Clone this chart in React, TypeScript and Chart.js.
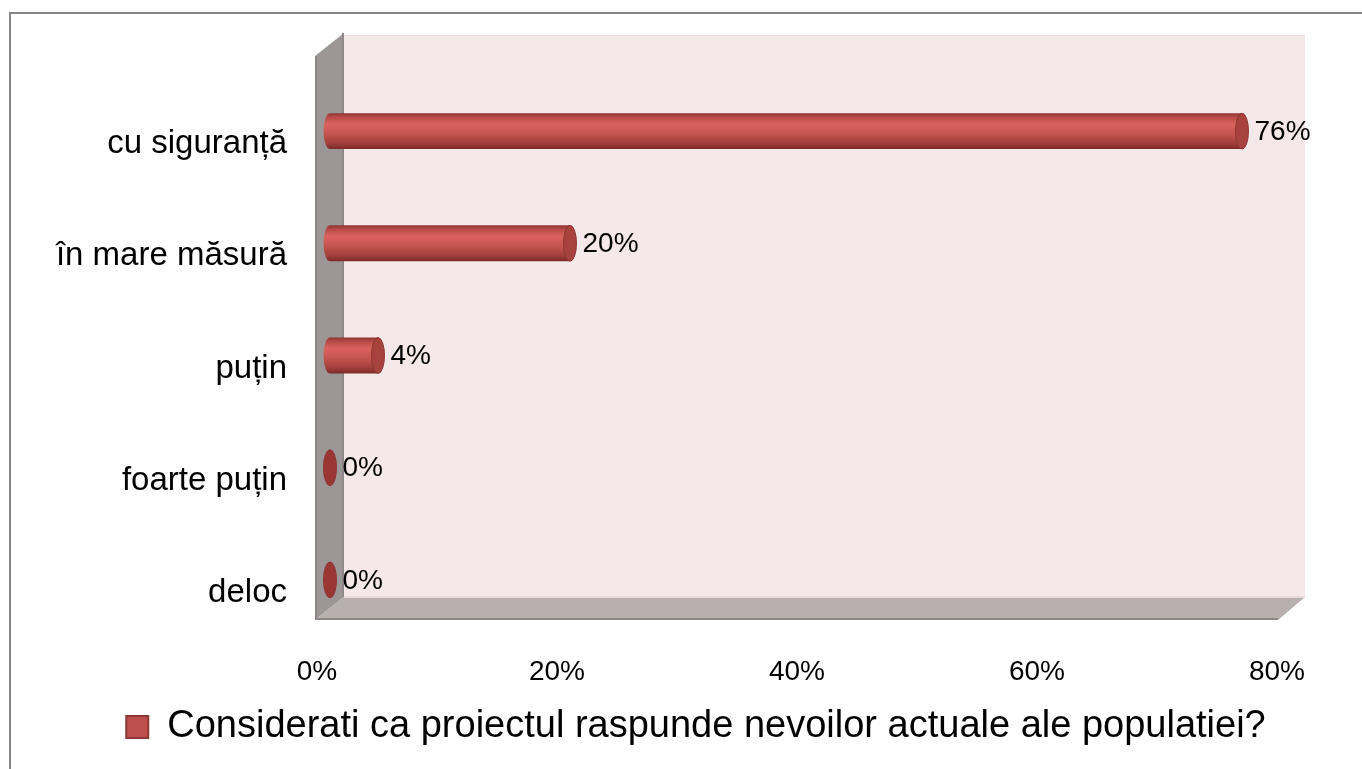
import React, { useEffect, useRef } from "react";
import { Chart, registerables } from "chart.js";

Chart.register(...registerables);

const categories = ["cu siguranță", "în mare măsură", "puțin", "foarte puțin", "deloc"];
const values = [76, 20, 4, 0, 0];
const xMax = 80;
const xStep = 20;
const seriesLabel = "Considerati ca proiectul raspunde nevoilor actuale ale populatiei?";

const FONT = "'Liberation Sans', Arial, sans-serif";

const wallPlugin = {
  id: "wall3d",
  afterLayout(chart: any) {
    const lg = chart.legend;
    if (lg) {
      lg.left += 31;
      lg.right += 31;
    }
  },
  beforeDraw(chart: any) {
    const ctx = chart.ctx;
    ctx.save();
    ctx.fillStyle = "#ffffff";
    ctx.fillRect(0, 0, chart.width, chart.height);
    ctx.strokeStyle = "#878787";
    ctx.lineWidth = 2;
    ctx.strokeRect(10, 13, chart.width + 40, chart.height + 40);
    ctx.restore();
  },
  beforeDatasetsDraw(chart: any) {
    const ctx = chart.ctx;
    const xs = chart.scales.x;
    const ca = chart.chartArea;
    const x0 = xs.getPixelForValue(0);
    const x1 = xs.getPixelForValue(xs.max);
    const bL = x0 + 14, bR = x1 + 15, bT = ca.top - 40, bB = ca.bottom - 39;
    const fL = x0 - 15, fR = x1 - 12, fT = ca.top - 19, fB = ca.bottom - 16;
    ctx.save();
    // back wall
    ctx.fillStyle = "#F5E8E8";
    ctx.fillRect(bL, bT, bR - bL, bB - bT);
    ctx.fillStyle = "#F0E2E2";
    ctx.fillRect(bL, bT, bR - bL, 1);
    // left wall
    ctx.beginPath();
    ctx.moveTo(fL, fT);
    ctx.lineTo(bL, bT - 2);
    ctx.lineTo(bL, bB);
    ctx.lineTo(fL, fB);
    ctx.closePath();
    ctx.fillStyle = "#9C9696";
    ctx.fill();
    ctx.fillStyle = "#8A8585";
    ctx.fillRect(fL, fT, 2, fB - fT);
    ctx.fillStyle = "#8E8888";
    ctx.fillRect(bL - 2, bT - 2, 2, bB - bT + 2);
    // floor
    ctx.beginPath();
    ctx.moveTo(fL, fB);
    ctx.lineTo(bL, bB);
    ctx.lineTo(bR, bB);
    ctx.lineTo(fR, fB);
    ctx.closePath();
    ctx.fillStyle = "#B8AFAF";
    ctx.fill();
    ctx.fillStyle = "#E9DADA";
    ctx.fillRect(bL, bB - 1, bR - bL, 2);
    ctx.fillStyle = "#8C8787";
    ctx.fillRect(fL, fB - 2, fR - fL, 2);
    ctx.restore();
  },
  beforeDatasetDraw() {
    return false;
  },
  afterDatasetsDraw(chart: any) {
    const ctx = chart.ctx;
    const meta = chart.getDatasetMeta(0);
    const data = chart.data.datasets[0].data as number[];
    ctx.save();
    meta.data.forEach((el: any, i: number) => {
      const p = el.getProps(["x", "y", "base", "height"], true);
      const h = p.height;
      const ry = h / 2;
      const rx = 6.5;
      const top = p.y - ry;
      if (p.x > p.base + 0.5) {
        const g = ctx.createLinearGradient(0, top, 0, top + h);
        g.addColorStop(0, "#8E3532");
        g.addColorStop(0.1, "#B54946");
        g.addColorStop(0.3, "#DA625E");
        g.addColorStop(0.55, "#C85552");
        g.addColorStop(0.85, "#A03E3B");
        g.addColorStop(1, "#7A2A28");
        ctx.beginPath();
        ctx.moveTo(p.base, top);
        ctx.lineTo(p.x, top);
        ctx.lineTo(p.x, top + h);
        ctx.lineTo(p.base, top + h);
        ctx.ellipse(p.base, p.y, rx, ry, 0, Math.PI / 2, Math.PI * 1.5);
        ctx.closePath();
        ctx.fillStyle = g;
        ctx.fill();
      }
      ctx.beginPath();
      ctx.ellipse(p.x, p.y, rx, ry, 0, 0, Math.PI * 2);
      ctx.fillStyle = p.x > p.base + 0.5 ? "#A8423F" : "#9A3735";
      ctx.fill();
      ctx.strokeStyle = "#8E3532";
      ctx.lineWidth = 1;
      ctx.stroke();
      // data label
      ctx.fillStyle = "#000000";
      ctx.font = `28px ${FONT}`;
      ctx.textAlign = "left";
      ctx.textBaseline = "middle";
      ctx.fillText(`${data[i]}%`, p.x + rx + 6, p.y + 1);
    });
    ctx.restore();
  },
};

export default function App() {
  const ref = useRef<HTMLCanvasElement | null>(null);
  useEffect(() => {
    if (!ref.current) return;
    const chart = new Chart(ref.current, {
      type: "bar",
      data: {
        labels: categories,
        datasets: [
          {
            label: seriesLabel,
            data: values,
            backgroundColor: "#C0504D",
            borderColor: "#8C3836",
            borderWidth: 2,
            barPercentage: 0.32,
            categoryPercentage: 1,
          },
        ],
      },
      options: {
        indexAxis: "y",
        responsive: false,
        animation: false,
        layout: { padding: { left: 40, right: 72, top: 75, bottom: 13 } },
        scales: {
          x: {
            min: 0,
            max: xMax,
            grid: { display: false, drawTicks: false },
            border: { display: false },
            afterFit: (s: any) => {
              s.height = 62;
            },
            ticks: {
              stepSize: xStep,
              padding: 19,
              labelOffset: -13,
              color: "#000000",
              font: { family: FONT, size: 28 },
              callback: (v: any) => `${v}%`,
            },
          },
          y: {
            grid: { display: false, drawTicks: false },
            border: { display: false },
            afterFit: (s: any) => {
              s.width = 290;
            },
            ticks: {
              padding: 43,
              labelOffset: 13,
              color: "#000000",
              font: { family: FONT, size: 33 },
            },
          },
        },
        plugins: {
          legend: {
            display: true,
            position: "bottom",
            labels: {
              boxWidth: 22,
              boxHeight: 22,
              padding: 10,
              color: "#000000",
              font: { family: FONT, size: 38 },
            },
          },
          tooltip: { enabled: false },
        },
      },
      plugins: [wallPlugin],
    });
    return () => chart.destroy();
  }, []);
  return (
    <div style={{ position: "absolute", left: 0, top: 0, width: 1362, height: 769 }}>
      <canvas ref={ref} width={1362} height={769} style={{ display: "block" }} />
    </div>
  );
}
